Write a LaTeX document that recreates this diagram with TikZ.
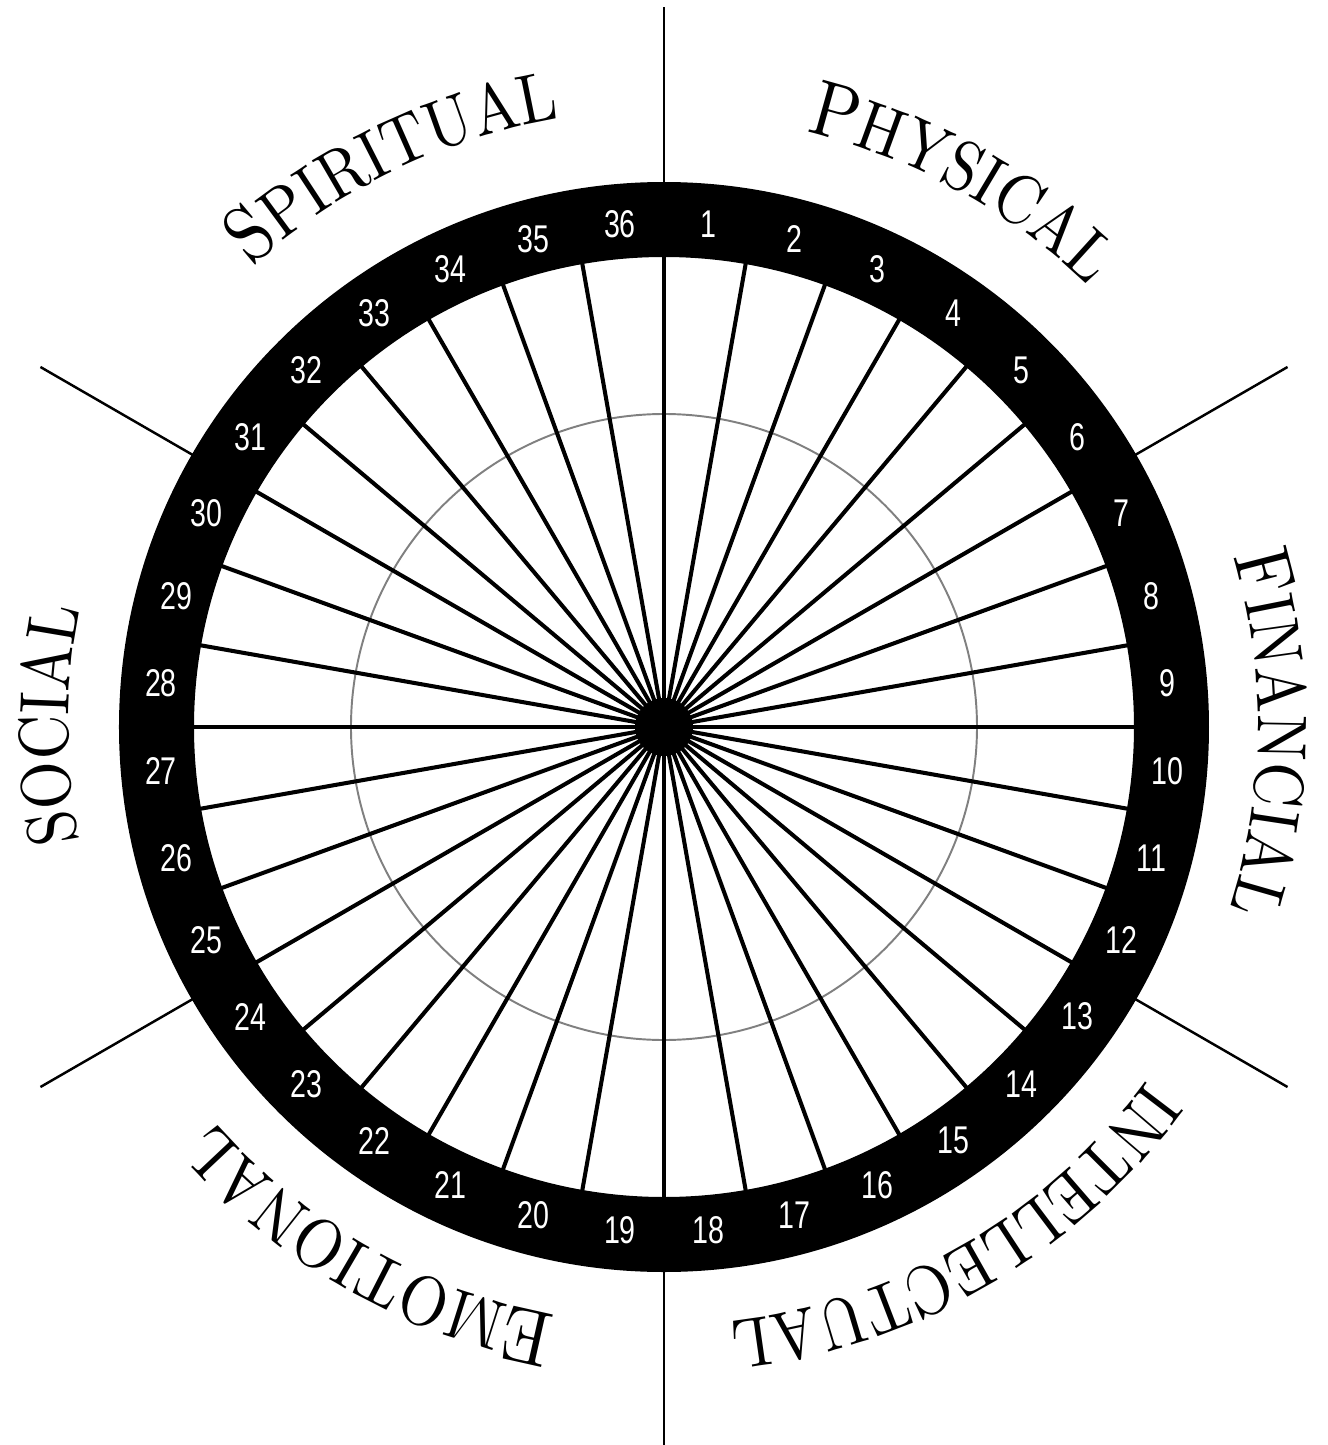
\documentclass[tikz,border=0pt]{standalone}
\usepackage{fontspec}
\usetikzlibrary{decorations.text}
\newfontfamily\numfont[FakeStretch=0.74]{Liberation Sans}
\newfontfamily\lblfont[FakeStretch=0.88]{lmroman10-regular.otf}
\newcommand\lblnormal{\lblfont\fontsize{40}{40}\selectfont}
\newcommand\lblbig{\lblfont\fontsize{45}{45}\selectfont}
\newcommand\arclabel[3]{%
  \path[decorate, decoration={text along path, text align=center, text={#3}}]
    (#1+55:#2) arc[start angle=#1+55, end angle=#1-55, radius=#2];}
\tikzset{
  spoke/.style={line width=2.3pt, black},
  divider/.style={line width=1.4pt, black},
  guide/.style={line width=1.1pt, black!50},
  numlabel/.style={text=white, font=\numfont\fontsize{22}{22}\selectfont, inner sep=0pt},
}
\begin{document}
\begin{tikzpicture}[x=0.02cm, y=0.02cm]
\useasboundingbox (-664,-718) rectangle (664,727);
\fill[white] (-664,-718) rectangle (664,727);
\coordinate (c) at (0,0);
% guide circle
\draw[guide] (c) circle (313);
% spokes
\foreach \a in {0,10,...,350} \draw[spoke] (c) -- (\a:471);
% ring
\fill[black, even odd rule] (c) circle (545) (c) circle (470);
% centre hub
\fill[black] (c) circle (29);
% sector dividers
\foreach \a in {90,30,-30,-90,-150,150} \draw[divider] (\a:540) -- (\a:720);
% numbers
\foreach \k in {1,...,36} \node[numlabel] (n\k) at ({95-10*\k}:505) {\k};
% sector labels
\arclabel{61.3}{612}{|\lblbig|P|\lblnormal|HYSICAL}
\arclabel{115.7}{618}{|\lblbig|S|\lblnormal|PIRITUAL}
\arclabel{-0.6}{594}{|\lblbig|F|\lblnormal|INANCIAL}
\arclabel{-60}{598}{|\lblnormal|INTELLECTUAL}
\arclabel{-119.5}{598}{|\lblbig|E|\lblnormal|MOTIONAL}
\arclabel{179.8}{596}{|\lblnormal|SOCIAL}
\end{tikzpicture}
\end{document}
